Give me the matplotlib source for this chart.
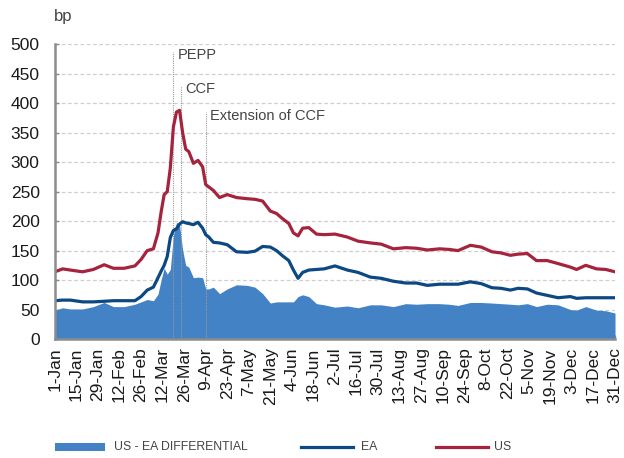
"""Corporate spreads: US vs EA, with the US - EA differential as a filled area."""

import matplotlib

matplotlib.use("Agg")
import matplotlib.pyplot as plt  # noqa: E402
import numpy as np  # noqa: E402
from matplotlib.lines import Line2D  # noqa: E402
from matplotlib.patches import Rectangle  # noqa: E402

# --- data (day offset from 1-Jan, spreads in bp) --------------------------------

DAYS = [0, 5, 10, 18, 25, 32, 38, 45, 52, 56, 60, 64, 67, 69, 71, 73, 75, 77,
        79, 81, 83, 85, 87, 90, 93, 96, 98, 100, 103, 107, 112, 118, 125, 130,
        135, 140, 144, 148, 152, 155, 158, 161, 165, 170, 175, 182, 190, 197,
        205, 212, 220, 228, 235, 242, 250, 256, 262, 270, 277, 284, 290, 296,
        301, 307, 313, 320, 327, 335, 339, 345, 352, 358, 364]

US = [114, 119, 117, 114, 118, 126, 120, 120, 124, 135, 150, 153, 180, 215,
      245, 250, 290, 360, 385, 388, 350, 322, 318, 298, 303, 292, 262, 258,
      252, 240, 245, 240, 238, 237, 234, 217, 213, 204, 196, 180, 175, 188,
      189, 178, 177, 178, 173, 166, 163, 161, 153, 155, 154, 151, 153, 152,
      150, 159, 156, 148, 146, 142, 144, 145, 133, 133, 128, 122, 118, 125,
      119, 118, 114]

EA = [65, 66, 66, 63, 63, 64, 65, 65, 65, 72, 83, 88, 104, 115, 125, 140,
      172, 184, 187, 195, 199, 197, 196, 194, 198, 188, 177, 173, 164, 163,
      160, 148, 147, 149, 157, 156, 150, 141, 133, 117, 103, 113, 117, 118,
      119, 124, 117, 113, 105, 103, 98, 95, 95, 91, 93, 93, 93, 97, 94, 87,
      86, 83, 86, 85, 78, 74, 70, 72, 69, 70, 70, 70, 70]

TICK_LABELS = ["1-Jan", "15-Jan", "29-Jan", "12-Feb", "26-Feb", "12-Mar",
               "26-Mar", "9-Apr", "23-Apr", "7-May", "21-May", "4-Jun",
               "18-Jun", "2-Jul", "16-Jul", "30-Jul", "13-Aug", "27-Aug",
               "10-Sep", "24-Sep", "8-Oct", "22-Oct", "5-Nov", "19-Nov",
               "3-Dec", "17-Dec", "31-Dec"]

EVENTS = ["PEPP", "CCF", "Extension of CCF"]
EVENT_DAYS = [77, 82, 98]
EVENT_TOPS = [487, 430, 385]

C_US = "#a5233c"
C_EA = "#0c4882"
C_DIFF = "#4382c5"
C_AXIS = "#8c8c8c"
W, H = 624, 458  # figure size in px, used to place the hand-built legend

plt.rcParams["font.family"] = ["Liberation Sans", "DejaVu Sans"]

days = np.asarray(DAYS, dtype=float)
us = np.asarray(US, dtype=float)
ea = np.asarray(EA, dtype=float)
diff = us - ea

fig = plt.figure(figsize=(W / 100, H / 100), dpi=100)
ax = fig.add_axes([0.088, 0.2598, 0.8976, 0.6435])

ax.fill_between(days, 0, diff, color=C_DIFF, linewidth=0, zorder=2)
ax.plot(days, ea, color=C_EA, lw=2.3, zorder=4, solid_joinstyle="round")
ax.plot(days, us, color=C_US, lw=2.3, zorder=4, solid_joinstyle="round")

for name, d, top in zip(EVENTS, EVENT_DAYS, EVENT_TOPS):
    ax.plot([d, d], [0, top], color="#9a9a9a", lw=0.8, ls=(0, (1, 1)), zorder=3)
    ax.text(d + 3, top - 6, name, fontsize=10.5, color="#444444",
            ha="left", va="center")

ax.set_xlim(0, 364)
ax.set_ylim(0, 500)
ax.set_yticks(range(0, 501, 50))
ax.set_xticks(range(0, 365, 14))
ax.set_xticklabels(TICK_LABELS, rotation=90)
ax.tick_params(axis="both", direction="in", length=3, width=1, color=C_AXIS,
               labelsize=12.5, labelcolor="#1a1a1a")
ax.tick_params(axis="x", pad=6)
ax.tick_params(axis="y", pad=11)

ax.grid(True, axis="y", color="#cfcfcf", ls=(0, (3, 2)), lw=0.9, zorder=0)
for side in ("top", "right"):
    ax.spines[side].set_visible(False)
for side in ("left", "bottom"):
    ax.spines[side].set_color(C_AXIS)
    ax.spines[side].set_linewidth(1.8)
    ax.spines[side].set_zorder(5)

fig.text(54 / W, 1 - 16 / H, "bp", fontsize=12, color="#444444",
         ha="left", va="center")

# --- legend, laid out by hand to sit where the original puts it ----------------
leg_y = 1 - 447 / H
leg_font = {"family": ["Liberation Sans Narrow", "Liberation Sans", "DejaVu Sans"],
            "size": 8.8}
fig.add_artist(Rectangle((55 / W, 1 - 451 / H), 50 / W, 8 / H,
                         transform=fig.transFigure, facecolor=C_DIFF,
                         edgecolor="none"))
fig.text(114 / W, leg_y, "US - EA DIFFERENTIAL", color="#444444",
         ha="left", va="center", **leg_font)
for x0, x1, tx, col, lab in [(301, 353, 361, C_EA, "EA"),
                             (436, 488, 494, C_US, "US")]:
    fig.add_artist(Line2D([x0 / W, x1 / W], [leg_y, leg_y],
                          transform=fig.transFigure, color=col, lw=2.3))
    fig.text(tx / W, leg_y, lab, color="#444444", ha="left", va="center",
             **leg_font)

fig.savefig("out.png", dpi=100)
